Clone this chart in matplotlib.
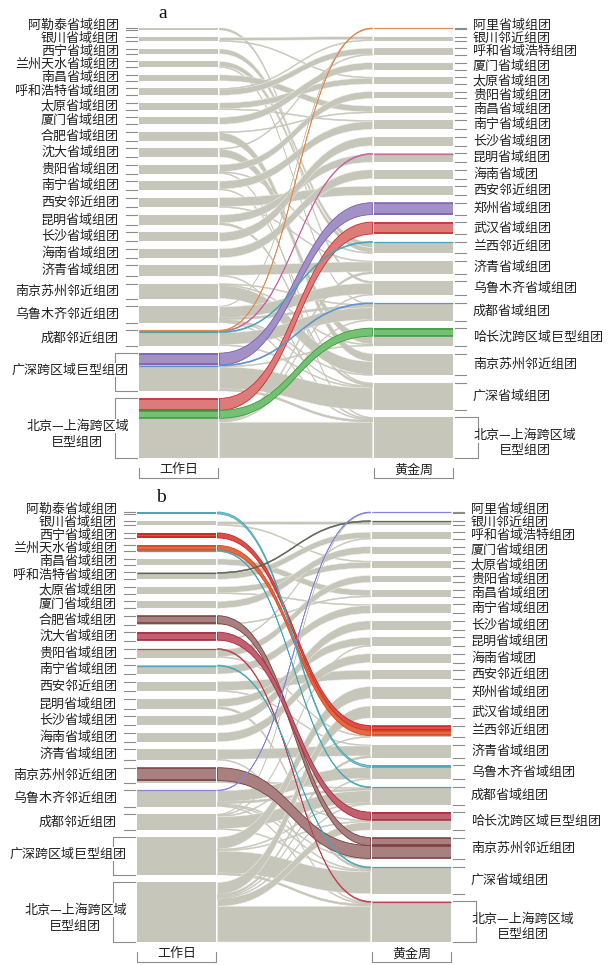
import matplotlib
matplotlib.use('Agg')
import matplotlib.pyplot as plt
from matplotlib.path import Path
from matplotlib.patches import PathPatch, Rectangle

plt.rcParams['font.family'] = ['Noto Sans CJK SC', 'DejaVu Sans']

# 工作日 clusters (left column), top to bottom
left_keys = ['阿勒泰', '银川', '西宁', '兰州天水', '南昌', '呼和浩特', '太原', '厦门',
             '合肥', '沈大', '贵阳', '南宁', '西安', '昆明', '长沙', '海南', '济青',
             '南京苏州', '乌鲁', '成都', '广深', '北京']
left_labels = ['阿勒泰省域组团', '银川省域组团', '西宁省域组团', '兰州天水省域组团',
               '南昌省域组团', '呼和浩特省域组团', '太原省域组团', '厦门省域组团',
               '合肥省域组团', '沈大省域组团', '贵阳省域组团', '南宁省域组团',
               '西安邻近组团', '昆明省域组团', '长沙省域组团', '海南省域组团',
               '济青省域组团', '南京苏州邻近组团', '乌鲁木齐邻近组团', '成都邻近组团',
               '广深跨区域巨型组团', '北京—上海跨区域\n巨型组团']

# 黄金周 clusters (right column), top to bottom
right_keys = ['阿里', '银川邻近', '呼和', '厦门', '太原', '贵阳', '南昌', '南宁', '长沙',
              '昆明', '海南', '西安', '郑州', '武汉', '兰西', '济青', '乌鲁', '成都',
              '哈长沈', '南京苏州', '广深', '北京']
right_labels = ['阿里省域组团', '银川邻近组团', '呼和省域浩特组团', '厦门省域组团',
                '太原省域组团', '贵阳省域组团', '南昌省域组团', '南宁省域组团',
                '长沙省域组团', '昆明省域组团', '海南省域团', '西安邻近组团',
                '郑州省域组团', '武汉省域组团', '兰西邻近组团', '济青省域组团',
                '乌鲁木齐省域组团', '成都省域组团', '哈长沈跨区域巨型组团',
                '南京苏州邻近组团', '广深省域组团', '北京—上海跨区域\n巨型组团']

# (workday cluster, golden-week cluster, share)
flows = [
    ('阿勒泰', '乌鲁', 2), ('银川', '银川邻近', 3), ('银川', '太原', 1),
    ('西宁', '兰西', 5), ('兰州天水', '兰西', 5), ('兰州天水', '成都', 1),
    ('南昌', '南昌', 6), ('呼和浩特', '呼和', 6), ('呼和浩特', '银川邻近', 1),
    ('太原', '太原', 6), ('太原', '南宁', 1), ('厦门', '厦门', 7),
    ('合肥', '南京苏州', 8), ('合肥', '南昌', 1), ('沈大', '哈长沈', 8), ('沈大', '呼和', 1),
    ('贵阳', '贵阳', 7), ('贵阳', '兰西', 1), ('贵阳', '北京', 1),
    ('南宁', '南宁', 8), ('南宁', '广深', 1), ('西安', '西安', 9), ('西安', '济青', 1),
    ('昆明', '昆明', 8), ('昆明', '广深', 2), ('长沙', '长沙', 9), ('海南', '海南', 9),
    ('济青', '济青', 10), ('济青', '北京', 1),
    ('南京苏州', '南京苏州', 13), ('南京苏州', '成都', 1), ('南京苏州', '哈长沈', 1),
    ('乌鲁', '阿里', 0.6), ('乌鲁', '乌鲁', 11), ('乌鲁', '成都', 2),
    ('乌鲁', '南京苏州', 1), ('乌鲁', '广深', 1), ('乌鲁', '北京', 1),
    ('成都', '阿里', 0.6), ('成都', '昆明', 1), ('成都', '兰西', 1),
    ('成都', '成都', 12), ('成都', '广深', 1),
    ('广深', '郑州', 12), ('广深', '成都', 1), ('广深', '哈长沈', 1),
    ('广深', '广深', 22), ('广深', '北京', 2),
    ('北京', '武汉', 12), ('北京', '哈长沈', 8), ('北京', '济青', 2),
    ('北京', '乌鲁', 1), ('北京', '成都', 1), ('北京', '北京', 36),
]

highlight_a = {
    ('广深', '郑州'): 'purple', ('北京', '武汉'): 'red', ('北京', '哈长沈'): 'green',
    ('成都', '阿里'): 'orange', ('成都', '昆明'): 'pink', ('成都', '兰西'): 'teal',
    ('广深', '成都'): 'blue',
}
highlight_b = {
    ('西宁', '兰西'): 'scarlet', ('兰州天水', '兰西'): 'vermilion',
    ('合肥', '南京苏州'): 'mauve', ('南京苏州', '南京苏州'): 'mauve',
    ('沈大', '哈长沈'): 'crimson', ('阿勒泰', '乌鲁'): 'teal', ('兰州天水', '成都'): 'teal',
    ('南宁', '广深'): 'teal', ('乌鲁', '阿里'): 'lavender', ('贵阳', '北京'): 'rose',
    ('呼和浩特', '银川邻近'): 'slate',
}

# face / edge colours
palette = {
    'purple': ('#a191c4', '#7a5cb2'), 'red': ('#dd7b7b', '#cc2c2c'),
    'green': ('#74c174', '#3b9b3b'), 'orange': ('#eeb48c', '#e38a4e'),
    'pink': ('#dca2c5', '#c8679e'), 'teal': ('#7ec5d0', '#47a7b7'),
    'blue': ('#90b8e0', '#5b93cf'), 'scarlet': ('#dc4f4a', '#c92222'),
    'vermilion': ('#e36a42', '#d4471d'), 'mauve': ('#a98080', '#7a3d3d'),
    'crimson': ('#c2606f', '#a32a3d'), 'lavender': ('#aaaae6', '#8686d8'),
    'rose': ('#d76b79', '#c2404f'), 'slate': ('#7a8470', '#5c6654'),
}
GREY = '#c6c6ba'
TICK = '#8c8c8c'

PANEL_H = 430
GAP = 7.5
FS = 9.4
EM = 13.0  # pixel width of one CJK glyph at FS


def ribbon(ax, xa, xb, ya0, ya1, yb0, yb1, face, edge, lw, z):
    xm = (xa + xb) / 2
    verts = [(xa, ya0), (xm, ya0), (xm, yb0), (xb, yb0), (xb, yb1),
             (xm, yb1), (xm, ya1), (xa, ya1), (xa, ya0)]
    codes = [Path.MOVETO, Path.CURVE4, Path.CURVE4, Path.CURVE4, Path.LINETO,
             Path.CURVE4, Path.CURVE4, Path.CURVE4, Path.CLOSEPOLY]
    ax.add_patch(PathPatch(Path(verts, codes), facecolor=face, edgecolor=edge,
                           linewidth=lw, zorder=z))


def spread(centres, sep):
    ys = list(centres)
    for i in range(len(ys) - 2, -1, -1):
        ys[i] = min(ys[i], ys[i + 1] - sep)
    return ys


def draw_panel(ax, top, dx, highlight, letter):
    lx0, lx1 = 139 + dx, 218 + dx
    rx0, rx1 = 374 + dx, 453 + dx
    total = sum(v for _, _, v in flows)
    unit = (PANEL_H - GAP * (len(left_keys) - 1)) / total
    lidx = {k: i for i, k in enumerate(left_keys)}
    ridx = {k: i for i, k in enumerate(right_keys)}

    lsize = {k: sum(v for s, d, v in flows if s == k) * unit for k in left_keys}
    rsize = {k: sum(v for s, d, v in flows if d == k) * unit for k in right_keys}
    ltop, rtop = {}, {}
    y = top
    for k in left_keys:
        ltop[k] = y
        y += lsize[k] + GAP
    y = top
    for k in right_keys:
        rtop[k] = y
        y += rsize[k] + GAP

    seg = {}
    for k in left_keys:
        out = [f for f in flows if f[0] == k]
        out.sort(key=lambda f: ((f[0], f[1]) not in highlight, ridx[f[1]]))
        y = ltop[k]
        for f in out:
            seg.setdefault((f[0], f[1]), {})['a'] = (y, y + f[2] * unit)
            y += f[2] * unit
    for k in right_keys:
        inc = [f for f in flows if f[1] == k]
        inc.sort(key=lambda f: ((f[0], f[1]) not in highlight, lidx[f[0]]))
        y = rtop[k]
        for f in inc:
            seg[(f[0], f[1])]['b'] = (y, y + f[2] * unit)
            y += f[2] * unit

    xa, xb = lx1 + 1.5, rx0 - 1.5
    # grey ribbons underneath
    for s, d, v in flows:
        if (s, d) in highlight:
            continue
        (a0, a1), (b0, b1) = seg[(s, d)]['a'], seg[(s, d)]['b']
        ribbon(ax, xa, xb, a0, a1, b0, b1, GREY,
               '#f2f2ee' if v > 2 else GREY, 0.35, 1)
    # highlighted ribbons, thin ones last
    hl = sorted([f for f in flows if (f[0], f[1]) in highlight], key=lambda f: -f[2])
    for s, d, v in hl:
        face, edge = palette[highlight[(s, d)]]
        (a0, a1), (b0, b1) = seg[(s, d)]['a'], seg[(s, d)]['b']
        if v > 1.5:
            ribbon(ax, xa, xb, a0, a1, b0, b1, face, edge, 0.6, 3)
        else:
            ribbon(ax, xa, xb, a0, a1, b0, b1, edge, edge, 0.5, 4)

    # node bars
    for k in left_keys:
        ax.add_patch(Rectangle((lx0, ltop[k]), lx1 - lx0, lsize[k], facecolor=GREY,
                               edgecolor='none', zorder=2))
    for k in right_keys:
        ax.add_patch(Rectangle((rx0, rtop[k]), rx1 - rx0, rsize[k], facecolor=GREY,
                               edgecolor='none', zorder=2))
    for s, d, v in hl:
        face, edge = palette[highlight[(s, d)]]
        for (x0, x1), (y0, y1) in (((lx0, lx1), seg[(s, d)]['a']),
                                   ((rx0, rx1), seg[(s, d)]['b'])):
            if v > 1.5:
                ax.add_patch(Rectangle((x0, y0), x1 - x0, y1 - y0, facecolor=face,
                                       edgecolor='none', zorder=3))
                ax.plot([x0, x1], [y0 + 0.6, y0 + 0.6], color=edge, lw=1.1, zorder=4,
                        solid_capstyle='butt')
                ax.plot([x0, x1], [y1 - 0.6, y1 - 0.6], color=edge, lw=1.1, zorder=4,
                        solid_capstyle='butt')
            else:
                ym = (y0 + y1) / 2
                ax.plot([x0, x1], [ym, ym], color=edge, lw=0.9, zorder=4,
                        solid_capstyle='butt')

    # left labels and ticks
    lcent = spread([ltop[k] + lsize[k] / 2 for k in left_keys], 13)
    for i, k in enumerate(left_keys):
        y0, y1 = ltop[k], ltop[k] + lsize[k]
        lab = left_labels[i]
        if k in ('广深', '北京'):
            bx = lx0 - 24
            ax.plot([lx0 - 2, bx, bx, lx0 - 2], [y0, y0, y1, y1], color=TICK, lw=0.8, zorder=2)
            lines = lab.split('\n')
            yc = (y0 + y1) / 2 - 2
            ax.text(lx0 - 10, yc, lines[0], ha='right', va='center', fontsize=FS,
                    color='#222222', zorder=5,
                    bbox=dict(facecolor='white', edgecolor='none', pad=0.5))
            if len(lines) > 1:
                ax.text(lx0 - 10 - len(lines[0]) * EM / 2, yc + 16, lines[1], ha='center',
                        va='center', fontsize=FS, color='#222222', zorder=5)
        else:
            for yy in (y0, y1):
                ax.plot([lx0 - 13, lx0 - 2], [yy, yy], color=TICK, lw=0.8, zorder=2)
            ax.text(lx0 - 20, lcent[i], lab, ha='right', va='center', fontsize=FS,
                    color='#222222', zorder=5)

    # right labels and ticks
    rcent = spread([rtop[k] + rsize[k] / 2 for k in right_keys], 13)
    for i, k in enumerate(right_keys):
        y0, y1 = rtop[k], rtop[k] + rsize[k]
        lab = right_labels[i]
        if k == '北京':
            bx = rx1 + 25
            ax.plot([rx1 + 2, bx, bx, rx1 + 2], [y0, y0, y1, y1], color=TICK, lw=0.8, zorder=2)
            lines = lab.split('\n')
            yc = (y0 + y1) / 2 - 2
            ax.text(rx1 + 20, yc, lines[0], ha='left', va='center', fontsize=FS,
                    color='#222222', zorder=5,
                    bbox=dict(facecolor='white', edgecolor='none', pad=0.5))
            if len(lines) > 1:
                ax.text(rx1 + 20 + len(lines[0]) * EM / 2, yc + 15, lines[1], ha='center',
                        va='center', fontsize=FS, color='#222222', zorder=5)
        else:
            for yy in (y0, y1):
                ax.plot([rx1 + 2, rx1 + 13], [yy, yy], color=TICK, lw=0.8, zorder=2)
            ax.text(rx1 + 20, rcent[i], lab, ha='left', va='center', fontsize=FS,
                    color='#222222', zorder=5)

    # column captions
    bottom = top + PANEL_H
    for (x0, x1), cap in (((lx0, lx1), '工作日'), ((rx0, rx1), '黄金周')):
        ax.plot([x0, x0, x1, x1], [bottom + 10, bottom + 20, bottom + 20, bottom + 10],
                color=TICK, lw=0.8)
        ax.text((x0 + x1) / 2, bottom + 12, cap, ha='center', va='center', fontsize=FS,
                color='#222222')

    ax.text(lx0 + 24, top - 14, letter, ha='center', va='center', fontsize=14,
            family='Liberation Serif', color='#111111')


fig = plt.figure(figsize=(6.12, 9.65), dpi=100)
ax = fig.add_axes([0, 0, 1, 1])
ax.set_xlim(0, 612)
ax.set_ylim(965, 0)
ax.axis('off')

draw_panel(ax, 28, 0, highlight_a, 'a')
draw_panel(ax, 512, -2, highlight_b, 'b')

fig.savefig('out.png', dpi=100)
